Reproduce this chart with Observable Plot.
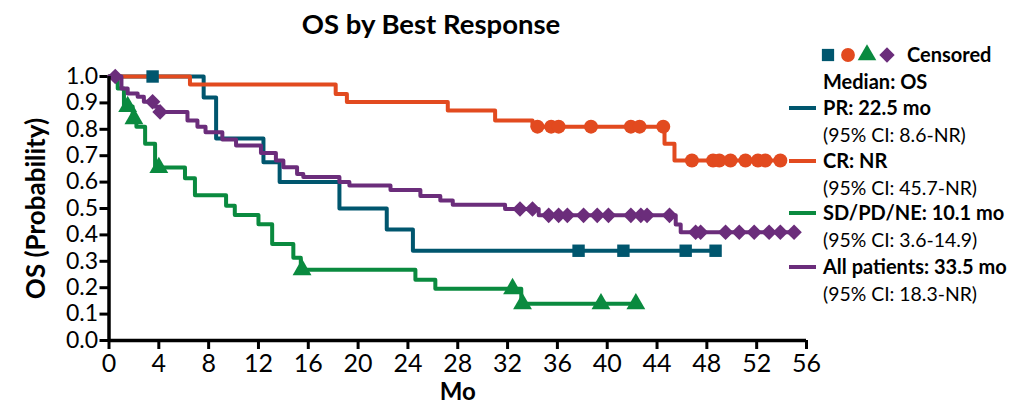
<!DOCTYPE html>
<html><head><meta charset="utf-8">
<script src="https://cdn.jsdelivr.net/npm/d3@7"></script>
<script src="https://cdn.jsdelivr.net/npm/@observablehq/plot@0.6"></script>
<style>
body{margin:0;background:#fff;font-family:Lato,"Open Sans",sans-serif;}
#wrap{position:relative;width:1017px;height:404px;overflow:hidden;}
#title{position:absolute;left:0;width:862px;top:6px;text-align:center;font-weight:bold;font-size:27.5px;line-height:36px;color:#000;}
#legend{position:absolute;left:0;top:0;}
</style></head><body>
<div id="wrap"><div id="title">OS by Best Response</div></div>
<script>
const seriesNames = ["PR", "CR", "SD/PD/NE", "All patients"];
const seriesColors = ["#00566e", "#e24a1f", "#0a8a3f", "#6b2d7b"];
const seriesSymbols = ["square", "circle", "triangle", "diamond2"];

const prTimes = [0, 7.6, 8.6, 12.4, 13.7, 18.5, 22.3, 24.4, 48.7];
const prSurv  = [1.0, 0.92, 0.765, 0.675, 0.60, 0.50, 0.42, 0.34, 0.34];
const prCensor = [3.5, 37.7, 41.3, 46.3, 48.7];

const crTimes = [0, 6.5, 18.2, 19.1, 27.2, 31.0, 34.0, 44.6, 45.4, 53.9];
const crSurv  = [1.0, 0.97, 0.934, 0.903, 0.871, 0.833, 0.81, 0.745, 0.682, 0.682];
const crCensor = [34.4, 35.5, 36.1, 38.7, 41.9, 42.6, 44.5, 46.8, 48.5, 49.0, 49.9, 51.1, 52.1, 52.7, 53.9];

const sdTimes = [0, 0.7, 1.2, 1.9, 2.2, 2.9, 3.7, 6.1, 6.9, 9.4, 10.1, 12.0, 13.1, 14.8, 15.4, 24.6, 26.2, 33.1, 42.3];
const sdSurv  = [1.0, 0.955, 0.886, 0.84, 0.81, 0.745, 0.655, 0.615, 0.55, 0.51, 0.475, 0.44, 0.366, 0.313, 0.268, 0.23, 0.196, 0.139, 0.139];
const sdCensor = [1.5, 2.0, 4.0, 15.5, 32.4, 33.2, 39.5, 42.3];

const allTimes = [0, 1.0, 1.5, 2.3, 2.8, 3.7, 4.0, 6.3, 7.1, 7.75, 9.1, 10.2, 12.2, 13.4, 14.0, 15.1, 15.6, 18.5, 19.3, 22.6, 25.0, 26.6, 27.6, 31.8, 34.5, 45.5, 45.9, 55.0];
const allSurv  = [1.0, 0.955, 0.936, 0.923, 0.904, 0.885, 0.866, 0.833, 0.81, 0.789, 0.761, 0.739, 0.71, 0.682, 0.656, 0.631, 0.619, 0.60, 0.587, 0.57, 0.547, 0.53, 0.514, 0.498, 0.474, 0.439, 0.41, 0.41];
const allCensor = [0.5, 3.5, 4.1, 33.0, 34.0, 35.3, 36.1, 36.8, 38.1, 39.2, 40.1, 41.9, 42.7, 43.2, 45.0, 47.1, 47.5, 49.5, 50.6, 51.8, 53.0, 53.9, 55.0];

const xTicks = [0, 4, 8, 12, 16, 20, 24, 28, 32, 36, 40, 44, 48, 52, 56];
const yTicks = [0, 0.1, 0.2, 0.3, 0.4, 0.5, 0.6, 0.7, 0.8, 0.9, 1.0];

const legendTitle = "Censored";
const legendHeader = "Median: OS";
const legendLabels = ["PR: 22.5 mo", "CR: NR", "SD/PD/NE: 10.1 mo", "All patients: 33.5 mo"];
const legendCI = ["(95% CI: 8.6-NR)", "(95% CI: 45.7-NR)", "(95% CI: 3.6-14.9)", "(95% CI: 18.3-NR)"];

const seriesData = [
  [prTimes, prSurv, prCensor],
  [crTimes, crSurv, crCensor],
  [sdTimes, sdSurv, sdCensor],
  [allTimes, allSurv, allCensor]
];

function survAt(times, surv, t) {
  let s = surv[0];
  for (let i = 0; i < times.length; i++) if (times[i] <= t) s = surv[i];
  return s;
}

const lines = [], cens = [];
seriesData.forEach(([times, surv, censor], k) => {
  const g = seriesNames[k];
  times.forEach((t, i) => lines.push({t, s: surv[i], g}));
  censor.forEach(t => cens.push({t, s: survAt(times, surv, t), g}));
});

const plot = Plot.plot({
  width: 1017, height: 404,
  marginLeft: 108.5, marginRight: 211, marginTop: 76, marginBottom: 64,
  style: {fontFamily: "Lato, 'Open Sans', sans-serif", background: "transparent", color: "#000", overflow: "visible"},
  x: {domain: [0, 56]},
  y: {domain: [0, 1]},
  color: {domain: seriesNames, range: seriesColors},
  symbol: {domain: seriesNames, range: seriesSymbols},
  marks: [
    Plot.axisX({ticks: xTicks, tickSize: 9, strokeWidth: 3, fontSize: 25, tickPadding: 5, label: null, tickFormat: d3.format("d")}),
    Plot.axisY({ticks: yTicks, tickSize: 9, strokeWidth: 3, fontSize: 23, tickPadding: 2, label: null, tickFormat: d3.format(".1f")}),
    Plot.line(lines, {x: "t", y: "s", z: "g", stroke: "g", curve: "step-after", strokeWidth: 4}),
    Plot.dot(cens, {x: "t", y: "s", symbol: "g", fill: "g", r: 7, stroke: "none"}),
    Plot.ruleX([0], {strokeWidth: 3.5}),
    Plot.ruleY([0], {strokeWidth: 3.5}),
    Plot.text(["OS (Probability)"], {text: d => d, frameAnchor: "left", textAnchor: "middle", dx: -72, rotate: -90, fontSize: 26, fontWeight: "bold", fill: "#000"}),
    Plot.text(["Mo"], {text: d => d, frameAnchor: "bottom", lineAnchor: "middle", dy: 52, fontSize: 24, fontWeight: "bold", fill: "#000"})
  ]
});
document.getElementById("wrap").prepend(plot);

// legend overlay
const svg = d3.select("#wrap").append("svg").attr("id", "legend")
  .attr("width", 1017).attr("height", 404)
  .style("font-family", "Lato, 'Open Sans', sans-serif");
const symX = [828, 848, 867, 887];
seriesSymbols.forEach((s, i) => {
  const sym = {square: d3.symbolSquare, circle: d3.symbolCircle, triangle: d3.symbolTriangle, diamond2: d3.symbolDiamond2}[s];
  svg.append("path").attr("d", d3.symbol(sym, 150)()).attr("transform", `translate(${symX[i]},55)`).attr("fill", seriesColors[i]);
});
svg.append("text").attr("x", 907).attr("y", 55).attr("dy", "0.35em").attr("font-size", 20).attr("font-weight", "bold").text(legendTitle);
svg.append("text").attr("x", 823).attr("y", 82).attr("dy", "0.35em").attr("font-size", 20).attr("font-weight", "bold").text(legendHeader);
const rowY = [108, 161, 213, 267];
legendLabels.forEach((lab, i) => {
  svg.append("line").attr("x1", 789).attr("x2", 816).attr("y1", rowY[i]).attr("y2", rowY[i]).attr("stroke", seriesColors[i]).attr("stroke-width", 4);
  svg.append("text").attr("x", 823).attr("y", rowY[i]).attr("dy", "0.35em").attr("font-size", 20).attr("font-weight", "bold").text(lab);
  svg.append("text").attr("x", 823).attr("y", rowY[i] + 27).attr("dy", "0.35em").attr("font-size", 19.4).text(legendCI[i]);
});
</script>
</body></html>
